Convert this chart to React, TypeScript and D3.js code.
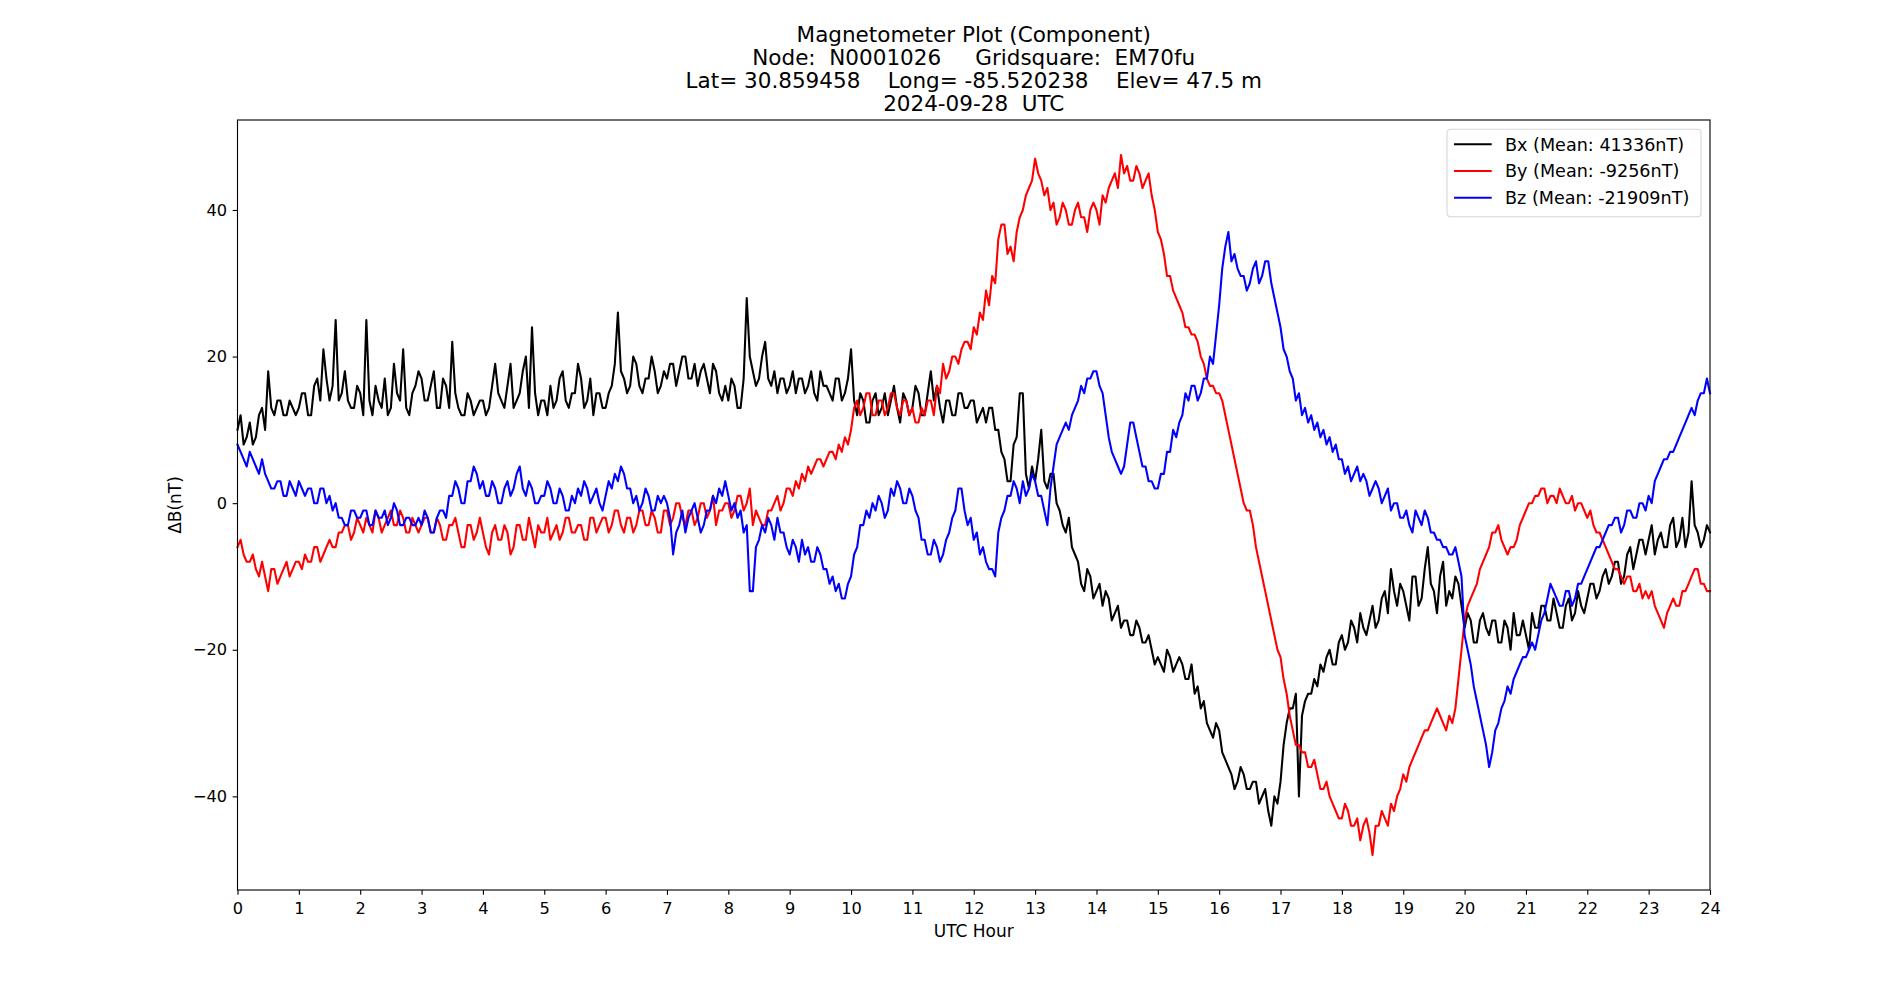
import { useEffect, useRef } from 'react';
import * as d3 from 'd3';

const WIDTH = 1900;
const HEIGHT = 1000;

const TITLE_LINES = [
  'Magnetometer Plot (Component)',
  'Node:  N0001026     Gridsquare:  EM70fu',
  'Lat= 30.859458    Long= -85.520238    Elev= 47.5 m',
  '2024-09-28  UTC',
];

const X_LABEL = 'UTC Hour';
const Y_LABEL = 'ΔB(nT)';

const X_TICKS = [0, 1, 2, 3, 4, 5, 6, 7, 8, 9, 10, 11, 12, 13, 14, 15, 16, 17, 18, 19, 20, 21, 22, 23, 24];
const Y_TICKS = [-40, -20, 0, 20, 40];

// samples every 0.05 h (3 min), one row per hour
const SAMPLE_STEP = 0.05;

const BX = [
  10, 12, 8, 9, 11, 8, 9, 12, 13, 10, 18, 13, 12, 14, 14, 12, 12, 14, 13, 12,
  13, 15, 15, 12, 12, 16, 17, 14, 21, 17, 14, 16, 25, 14, 15, 18, 14, 13, 13, 16,
  15, 12, 25, 14, 12, 16, 14, 13, 17, 12, 13, 19, 15, 14, 21, 13, 12, 15, 16, 18,
  17, 14, 14, 16, 18, 13, 13, 17, 16, 13, 22, 15, 13, 12, 12, 15, 14, 12, 13, 14,
  14, 12, 13, 16, 19, 15, 14, 13, 16, 19, 13, 14, 15, 18, 20, 13, 24, 15, 12, 14,
  14, 12, 16, 13, 14, 17, 18, 14, 13, 15, 15, 19, 17, 13, 14, 17, 12, 15, 15, 13,
  13, 15, 16, 19, 26, 18, 17, 15, 16, 20, 19, 16, 15, 17, 17, 20, 18, 15, 16, 18,
  17, 19, 19, 16, 18, 20, 20, 17, 17, 19, 16, 18, 19, 17, 15, 19, 18, 15, 14, 16,
  14, 17, 16, 13, 13, 17, 28, 20, 18, 16, 17, 20, 22, 17, 16, 18, 15, 17, 17, 15,
  16, 18, 15, 17, 17, 15, 16, 18, 15, 14, 18, 16, 16, 15, 14, 17, 17, 14, 15, 17,
  21, 14, 12, 15, 14, 11, 11, 14, 15, 12, 13, 15, 12, 14, 16, 13, 11, 15, 14, 12,
  13, 16, 15, 12, 12, 15, 18, 14, 16, 13, 11, 14, 14, 12, 12, 15, 15, 13, 13, 14,
  14, 11, 12, 13, 11, 13, 13, 10, 10, 7, 6, 3, 3, 8, 9, 15, 15, 4, 2, 5,
  3, 6, 10, 3, 2, 4, 4, 0, -1, -3, -4, -2, -6, -7, -8, -11, -12, -9, -10, -13,
  -12, -11, -14, -12, -13, -16, -15, -14, -17, -16, -16, -18, -18, -16, -17, -19, -19, -18, -20, -22,
  -21, -22, -23, -20, -21, -23, -22, -21, -22, -24, -24, -22, -26, -25, -28, -27, -30, -31, -32, -30,
  -31, -34, -35, -36, -37, -39, -38, -36, -37, -39, -39, -38, -38, -41, -40, -39, -42, -44, -40, -41,
  -38, -33, -30, -28, -28, -26, -40, -29, -27, -26, -26, -24, -25, -22, -23, -21, -20, -22, -22, -19,
  -18, -20, -19, -16, -17, -19, -15, -17, -18, -16, -14, -17, -16, -13, -12, -15, -9, -12, -14, -11,
  -12, -14, -16, -10, -10, -14, -13, -9, -6, -11, -12, -15, -10, -8, -14, -12, -13, -10, -11, -14,
  -17, -15, -16, -19, -19, -16, -15, -17, -18, -16, -16, -19, -19, -16, -17, -20, -15, -18, -18, -16,
  -18, -20, -15, -17, -17, -14, -14, -16, -16, -13, -15, -17, -17, -14, -13, -16, -15, -12, -14, -15,
  -13, -11, -11, -13, -12, -10, -9, -11, -10, -8, -8, -11, -10, -7, -6, -9, -7, -5, -5, -7,
  -5, -3, -7, -5, -4, -6, -6, -3, -2, -6, -5, -2, -6, -4, 3, -3, -4, -6, -5, -3,
  -4,
];

const BY = [
  -6, -5, -7, -8, -8, -7, -9, -10, -8, -10, -12, -9, -9, -11, -10, -9, -8, -10, -9, -8,
  -8, -9, -7, -8, -8, -6, -6, -8, -7, -6, -5, -6, -6, -4, -4, -3, -3, -5, -4, -2,
  -3, -4, -2, -3, -4, -1, -2, -4, -3, -2, -1, -3, -3, -1, -2, -4, -4, -2, -3, -4,
  -3, -2, -2, -4, -4, -2, -3, -5, -5, -3, -3, -2, -4, -6, -6, -3, -3, -5, -4, -2,
  -4, -6, -7, -4, -3, -5, -5, -3, -4, -7, -6, -3, -3, -5, -5, -2, -4, -6, -3, -4,
  -4, -2, -5, -4, -3, -5, -4, -2, -2, -4, -4, -3, -3, -5, -5, -2, -2, -4, -3, -2,
  -2, -4, -3, -1, -1, -3, -4, -2, -2, -4, -3, -1, -1, -3, -3, -1, -2, -4, -4, -1,
  -1, -3, -2, 0, 0, -2, -3, -1, -1, -3, -2, 0, 0, -2, -1, 1, -3, -1, -1, 0,
  0, -2, -1, 1, 1, -1, 0, 2, -3, -1, -2, -3, -3, -1, -1, 0, 1, -1, 0, 2,
  2, 1, 3, 2, 4, 3, 5, 4, 5, 6, 6, 5, 6, 7, 7, 6, 8, 7, 9, 8,
  10, 13, 14, 12, 13, 15, 15, 12, 12, 14, 14, 12, 13, 15, 15, 13, 12, 14, 14, 12,
  13, 11, 11, 13, 12, 14, 14, 12, 16, 15, 19, 17, 18, 20, 20, 19, 21, 22, 22, 21,
  24, 23, 26, 25, 29, 27, 31, 30, 36, 38, 38, 34, 35, 33, 37, 39, 40, 42, 43, 44,
  47, 45, 44, 42, 43, 40, 41, 38, 39, 41, 40, 38, 38, 40, 41, 39, 39, 37, 40, 41,
  40, 38, 42, 41, 43, 44, 45, 43, 47.5, 45, 46, 44, 44, 46, 45, 43, 44, 45, 42, 40,
  37, 36, 34, 31, 31, 29, 28, 27, 26, 24, 24, 23, 23, 22, 20, 19, 17, 16, 16, 15,
  15, 14, 12, 10, 8, 6, 4, 2, 0, -1, -1, -3, -6, -8, -10, -12, -14, -16, -18, -20,
  -21, -24, -26, -29, -31, -33, -33, -34, -34, -36, -36, -35, -37, -39, -39, -38, -40, -41, -42, -43,
  -43, -41, -42, -44, -44, -43, -46, -44, -43, -45, -48, -44, -44, -42, -43, -44, -41, -42, -40, -39,
  -37, -38, -36, -35, -34, -33, -32, -31, -31, -30, -29, -28, -29, -30, -31, -29, -30, -28, -24, -20,
  -16, -14, -13, -12, -11, -9, -8, -7, -6, -4, -4, -3, -5, -6, -7, -6, -6, -5, -3, -2,
  -1, 0, 0, 1, 1, 2, 2, 0, 1, 1, 0, 2, 1, 0, 0, 1, -1, 0, 0, -1,
  -2, -1, -3, -4, -4, -5, -6, -7, -8, -9, -9, -10, -11, -10, -10, -12, -12, -11, -13, -12,
  -13, -12, -14, -15, -16, -17, -15, -14, -13, -14, -14, -12, -12, -11, -10, -9, -9, -11, -11, -12,
  -12,
];

const BZ = [
  8, 7, 6, 5, 7, 6, 5, 4, 6, 4, 3, 2, 2, 3, 3, 1, 1, 3, 2, 1,
  3, 2, 1, 2, 2, 0, 0, 2, 2, 0, 1, -1, 0, -2, -2, -3, -3, -1, -1, -2,
  -2, -1, -1, -3, -3, -1, -2, -2, -1, -3, -2, 0, -1, -3, -3, -2, -2, -3, -3, -2,
  -3, -1, -2, -4, -4, -2, -1, -1, -2, 1, 1, 3, 2, 0, 0, 3, 3, 5, 4, 2,
  3, 1, 1, 3, 2, 0, 0, 2, 3, 1, 2, 4, 5, 2, 1, 3, 2, 0, 0, 1,
  1, 3, 2, 0, 0, 2, 1, -1, -1, 1, 0, 2, 1, 3, 2, 0, 1, 2, 0, -1,
  1, 3, 2, 4, 3, 5, 4, 2, 2, 0, 1, -1, 0, 2, 1, -1, -1, 1, 0, 1,
  0, -2, -7, -4, -3, -1, -4, -2, -1, 0, -2, -4, -3, -1, -1, 1, 0, 2, 1, 3,
  1, -1, 0, -2, -1, -4, -3, -12, -12, -6, -5, -3, -4, -2, -3, -5, -2, -4, -4, -6,
  -7, -5, -6, -8, -5, -7, -6, -8, -8, -6, -7, -9, -9, -11, -10, -12, -11, -13, -13, -11,
  -10, -7, -6, -3, -3, -1, -2, 0, -1, 1, 0, -2, -1, 2, 1, 3, 2, 0, 0, 2,
  1, -1, -2, -5, -5, -7, -7, -5, -6, -8, -7, -5, -4, -2, -1, 2, 2, -1, -3, -2,
  -5, -4, -7, -6, -8, -9, -9, -10, -4, -2, -1, 1, 1, 3, 2, 0, 3, 1, 2, 4,
  3, 1, 1, -1, -3, 2, 5, 8, 9, 10, 11, 10, 12, 13, 14, 16, 15, 17, 17, 18,
  18, 16, 15, 12, 9, 7, 6, 5, 4, 5, 8, 11, 11, 9, 7, 5, 5, 3, 3, 2,
  2, 4, 4, 7, 7, 10, 9, 11, 12, 15, 14, 16, 16, 14, 15, 17, 17, 20, 19, 23,
  27, 32, 35, 37, 33, 34, 32, 31, 31, 29, 30, 32, 33, 30, 31, 33, 33, 30, 28, 26,
  24, 21, 20, 18, 17, 14, 15, 12, 13, 11, 12, 10, 11, 9, 10, 8, 9, 7, 8, 6,
  6, 4, 5, 3, 4, 5, 3, 4, 3, 1, 2, 3, 2, 0, 1, 2, -1, 0, 0, -2,
  -2, -1, -3, -4, -1, -2, -3, -1, -2, -4, -4, -5, -5, -6, -6, -7, -7, -6, -8, -10,
  -18, -20, -22, -25, -27, -29, -31, -33, -36, -34, -31, -30, -28, -27, -25, -26, -24, -23, -22, -21,
  -21, -20, -19, -20, -18, -16, -15, -13, -11, -12, -13, -14, -14, -12, -12, -14, -13, -11, -11, -10,
  -9, -8, -7, -6, -6, -5, -4, -3, -3, -2, -2, -4, -3, -1, -1, -2, -2, 0, 0, -1,
  1, 0, 3, 4, 5, 6, 6, 7, 7, 8, 9, 10, 11, 12, 13, 12, 14, 15, 15, 17,
  15,
];

const SERIES = [
  { key: 'bx', label: 'Bx (Mean: 41336nT)', color: '#000000', values: BX },
  { key: 'by', label: 'By (Mean: -9256nT)', color: '#ff0000', values: BY },
  { key: 'bz', label: 'Bz (Mean: -21909nT)', color: '#0000ff', values: BZ },
];

const FONT = '"DejaVu Sans", Verdana, sans-serif';

export default function App() {
  const svgRef = useRef<SVGSVGElement>(null);

  useEffect(() => {
    if (!svgRef.current) return;
    const svg = d3.select(svgRef.current);
    svg.selectAll('*').remove();

    const margin = { top: 120, right: 190, bottom: 110, left: 237.5 };
    const innerWidth = WIDTH - margin.left - margin.right;
    const innerHeight = HEIGHT - margin.top - margin.bottom;

    svg.append('rect').attr('width', WIDTH).attr('height', HEIGHT).attr('fill', '#ffffff');

    // title block, centred over the axes
    const title = svg
      .append('text')
      .attr('font-family', FONT)
      .attr('font-size', 21.5)
      .attr('fill', '#000')
      .attr('text-anchor', 'middle')
      .style('white-space', 'pre');
    TITLE_LINES.forEach((line, i) => {
      title
        .append('tspan')
        .attr('x', margin.left + innerWidth / 2)
        .attr('y', 42.3 + i * 22.75)
        .text(line);
    });

    const g = svg.append('g').attr('transform', `translate(${margin.left},${margin.top})`);

    const xScale = d3.scaleLinear().domain([0, 24]).range([0, innerWidth]);

    const allValues = SERIES.flatMap((s) => s.values);
    const [lo, hi] = d3.extent(allValues) as [number, number];
    const pad = (hi - lo) * 0.05;
    const yScale = d3.scaleLinear().domain([lo - pad, hi + pad]).range([innerHeight, 0]);

    const line = d3
      .line<number>()
      .x((_, i) => xScale(i * SAMPLE_STEP))
      .y((d) => yScale(d));

    SERIES.forEach((s) => {
      g.append('path')
        .datum(s.values)
        .attr('d', line)
        .attr('fill', 'none')
        .attr('stroke', s.color)
        .attr('stroke-width', 2.08)
        .attr('stroke-linejoin', 'round')
        .attr('stroke-linecap', 'square');
    });

    // frame
    g.append('rect')
      .attr('width', innerWidth)
      .attr('height', innerHeight)
      .attr('fill', 'none')
      .attr('stroke', '#000')
      .attr('stroke-width', 1.11);

    const xAxis = d3
      .axisBottom(xScale)
      .tickValues(X_TICKS)
      .tickFormat((v) => String(v))
      .tickSize(4.86)
      .tickPadding(8);

    const yAxis = d3
      .axisLeft(yScale)
      .tickValues(Y_TICKS)
      .tickFormat((v) => d3.format('d')(v as number).replace('-', '\u2212'))
      .tickSize(4.86)
      .tickPadding(5.5);

    const xg = g.append('g').attr('transform', `translate(0,${innerHeight})`).call(xAxis);
    const yg = g.append('g').call(yAxis);

    [xg, yg].forEach((axis) => {
      axis.select('.domain').remove();
      axis.selectAll('line').attr('stroke', '#000').attr('stroke-width', 1.11);
      axis
        .selectAll('text')
        .attr('fill', '#000')
        .style('font-family', FONT)
        .style('font-size', '16.2px');
    });

    g.append('text')
      .attr('x', innerWidth / 2)
      .attr('y', innerHeight + 47)
      .attr('text-anchor', 'middle')
      .attr('font-family', FONT)
      .attr('font-size', 17)
      .attr('fill', '#000')
      .text(X_LABEL);

    g.append('text')
      .attr('transform', `translate(${-56.5},${innerHeight / 2}) rotate(-90)`)
      .attr('text-anchor', 'middle')
      .attr('font-family', FONT)
      .attr('font-size', 17)
      .attr('fill', '#000')
      .text(Y_LABEL);

    // legend, upper right
    const legendW = 254;
    const legendH = 87.4;
    const legend = g
      .append('g')
      .attr('transform', `translate(${innerWidth - 9 - legendW},${9.3})`);

    legend
      .append('rect')
      .attr('width', legendW)
      .attr('height', legendH)
      .attr('rx', 3.5)
      .attr('fill', '#ffffff')
      .attr('fill-opacity', 0.8)
      .attr('stroke', '#cccccc')
      .attr('stroke-opacity', 0.8)
      .attr('stroke-width', 1.11);

    SERIES.forEach((s, i) => {
      const cy = 15 + i * 26.7;
      legend
        .append('line')
        .attr('x1', 7)
        .attr('x2', 44.7)
        .attr('y1', cy)
        .attr('y2', cy)
        .attr('stroke', s.color)
        .attr('stroke-width', 2.08);
      legend
        .append('text')
        .attr('x', 58)
        .attr('y', cy)
        .attr('dy', '0.36em')
        .attr('font-family', FONT)
        .attr('font-size', 17.6)
        .attr('fill', '#000')
        .text(s.label);
    });
  }, []);

  return (
    <div style={{ position: 'absolute', left: 0, top: 0 }}>
      <svg ref={svgRef} width={WIDTH} height={HEIGHT}></svg>
    </div>
  );
}
